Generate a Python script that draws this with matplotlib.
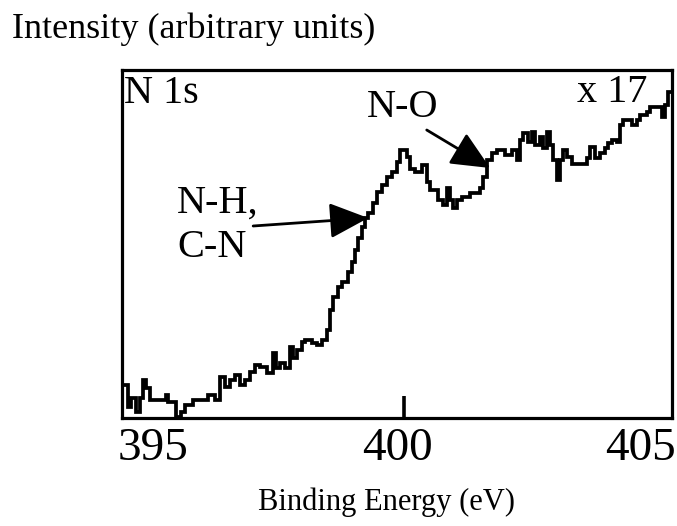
import matplotlib
matplotlib.use("Agg")
import matplotlib.pyplot as plt
from matplotlib.patches import FancyArrowPatch

plt.rcParams['font.family'] = ['Liberation Serif', 'DejaVu Serif']

# N 1s spectrum: start energy of each step (eV) and its intensity (arb. units)
energy = [394.37, 394.49, 394.55, 394.65, 394.73, 394.80, 394.86, 394.94, 395.27, 395.31,
          395.47, 395.57, 395.66, 395.82, 396.13, 396.27, 396.37, 396.48, 396.58, 396.68,
          396.78, 396.89, 396.99, 397.09, 397.19, 397.34, 397.46, 397.52, 397.60, 397.70,
          397.81, 397.87, 397.95, 398.05, 398.11, 398.26, 398.36, 398.46, 398.57, 398.63,
          398.69, 398.79, 398.87, 399.00, 399.08, 399.14, 399.20, 399.28, 399.34, 399.41,
          399.51, 399.59, 399.69, 399.80, 399.90, 400.00, 400.06, 400.20, 400.27, 400.37,
          400.51, 400.61, 400.68, 400.84, 400.94, 401.02, 401.09, 401.15, 401.23, 401.33,
          401.50, 401.70, 401.76, 401.84, 401.95, 402.05, 402.21, 402.36, 402.46, 402.52,
          402.58, 402.68, 402.77, 402.83, 402.93, 402.99, 403.07, 403.14, 403.20, 403.28,
          403.34, 403.40, 403.48, 403.59, 403.89, 403.95, 404.06, 404.16, 404.26, 404.32,
          404.41, 404.51, 404.57, 404.63, 404.82, 404.92, 404.98, 405.12, 405.18, 405.43,
          405.49, 405.55, 405.64]
intensity = [33, 11, 20, 6, 20, 38, 30, 18, 23, 16,
             1, 6, 13, 18, 23, 18, 41, 31, 38, 43,
             33, 38, 46, 53, 51, 45, 65, 50, 55, 50,
             71, 60, 68, 76, 78, 75, 73, 78, 88, 108,
             121, 131, 136, 146, 156, 168, 180, 191, 200, 205,
             215, 226, 233, 241, 246, 256, 268, 261, 249, 246,
             253, 236, 228, 218, 213, 230, 218, 210, 218, 221,
             225, 230, 241, 258, 265, 268, 263, 268, 258, 278,
             285, 276, 286, 273, 281, 270, 286, 273, 258, 238,
             258, 268, 261, 254, 260, 271, 260, 265, 270, 275,
             278, 276, 293, 298, 293, 298, 303, 306, 311, 301,
             313, 326, 326]

tick_values = [395, 400, 405]
tick_labels = ["395", "400", "405"]

# peak assignments: label lines, arrow tail and arrow tip (eV, intensity)
nh_lines = ["N-H,", "C-N"]
nh_tail = (397.05, 192)
nh_tip = (399.41, 200)
no_label = "N-O"
no_tail = (400.61, 288)
no_tip = (401.91, 250)

fig = plt.figure(figsize=(6.77, 5.26), dpi=100)
ax = fig.add_axes([122 / 677, 108 / 526, 550 / 677, 348 / 526])

ax.step(energy, intensity, where='post', color='black', lw=2.7, solid_joinstyle='miter')

ax.set_xlim(394.36, 405.64)
ax.set_ylim(0, 348)
ax.set_yticks([])
ax.set_xticks(tick_values)
ax.set_xticklabels(tick_labels, fontsize=34)
ax.tick_params(axis='x', which='major', length=0, pad=7)
ax.set_xticks([400.15], minor=True)
ax.tick_params(axis='x', which='minor', direction='in', length=16, width=2.6, color='black')
for sp in ax.spines.values():
    sp.set_linewidth(2.3)

ax.text(0.004, 0.905, "N 1s", transform=ax.transAxes, fontsize=29, va='baseline', ha='left')
ax.text(0.955, 0.908, "x 17", transform=ax.transAxes, fontsize=29, va='baseline', ha='right')
ax.text(0.51, 0.865, no_label, transform=ax.transAxes, fontsize=29, va='baseline', ha='center')
ax.text(0.10, 0.589, nh_lines[0], transform=ax.transAxes, fontsize=29, va='baseline', ha='left')
ax.text(0.10, 0.463, nh_lines[1], transform=ax.transAxes, fontsize=29, va='baseline', ha='left')

for tail, tip in [(nh_tail, nh_tip), (no_tail, no_tip)]:
    arr = FancyArrowPatch(tail, tip, arrowstyle='-|>,head_length=2.4,head_width=1.1',
                          mutation_scale=10, color='black', lw=2.0, shrinkA=0, shrinkB=0)
    ax.add_patch(arr)

fig.text(12 / 677, 1 - 38 / 526, "Intensity (arbitrary units)", fontsize=26,
         ha='left', va='baseline')
fig.text(387 / 677, 1 - 510 / 526, "Binding Energy (eV)", fontsize=22,
         ha='center', va='baseline')

fig.savefig("out.png", dpi=100)
